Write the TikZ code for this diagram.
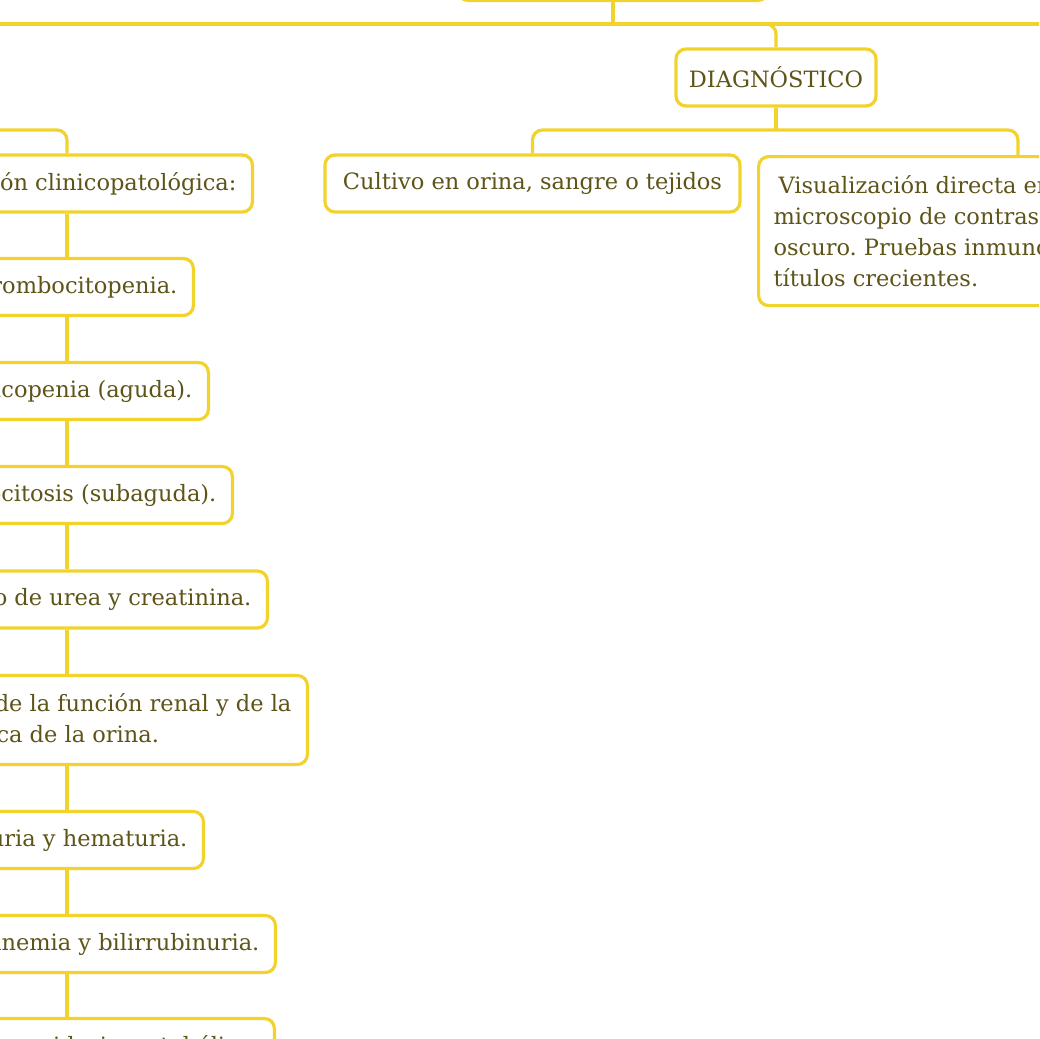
\documentclass[tikz,border=0pt]{standalone}
\usepackage{fontspec}
\setmainfont{DejaVu Serif}
\usetikzlibrary{calc}
\definecolor{yel}{HTML}{F2D32C}
\definecolor{txt}{HTML}{5E5418}
\frenchspacing
\begin{document}
\begin{tikzpicture}[x=1pt,y=-1pt,
  box/.style={draw=yel, line width=3.2pt, rounded corners=10pt, fill=white, text=txt,
    font=\fontsize{22.5}{31}\selectfont\frenchspacing, inner xsep=16pt, inner ysep=0pt, minimum height=57pt},
  conn/.style={draw=yel, line width=3.2pt, rounded corners=10pt}]
\useasboundingbox (0,0) rectangle (1039,1039);
\clip (0,0) rectangle (1039,1039);
% nodes
\node[box, minimum width=310pt, minimum height=60pt, anchor=south] (root) at (613,2) {};
\node[box, minimum width=200pt, inner xsep=12pt] (diag) at (776,77.5) {DIAGNÓSTICO};
\node[box, minimum width=415pt] (cult) at (532.5,183.5) {Cultivo en orina, sangre o tejidos};
\node[box, anchor=north west, minimum height=149pt, align=left, inner xsep=15pt] (vis) at (757,155)
  {\hspace{5pt}Visualización directa en el\\microscopio de contraste de campo\\oscuro. Pruebas inmunológicas con\\títulos crecientes.};
\node[box, anchor=east] (pres) at (254,183.5) {Presentación clinicopatológica:};
\node[box, anchor=east] (tromb) at (195,287) {Trombocitopenia.};
\node[box, anchor=east] (leucop) at (210,391) {Leucopenia (aguda).};
\node[box, anchor=east] (leucoc) at (234,495) {Leucocitosis (subaguda).};
\node[box, anchor=east] (urea) at (269,599.5) {Aumento de urea y creatinina.};
\node[box, anchor=east, align=left, minimum height=89pt] (renal) at (309,720)
  {\hspace*{160pt}\llap{Alteraciones d}e la función renal y de la\\\hspace*{160pt}\llap{composición químic}a de la orina.};
\node[box, anchor=east] (prot) at (205,840) {Proteinuria y hematuria.};
\node[box, anchor=east] (bili) at (277,944) {Hiperbilirrubinemia y bilirrubinuria.};
\node[box, anchor=east] (acid) at (276,1047) {Hiperfosfatemia y acidosis metabólica.};
% helper coordinates
\coordinate (lx) at (67,0);
\coordinate (bx) at (1018,0);
\coordinate (busL) at (-20,24);
\coordinate (busR) at (1060,24);
\coordinate (bus2) at (776,130);
\coordinate (bus3) at (-20,130);
% connectors
\draw[conn] (busL) -- (busR);
\draw[conn] (root.south) -- (root.south |- busL);
\draw[conn] (busL) -| (diag.north);
\draw[conn] (diag.south) -- (diag.south |- bus2);
\draw[conn] (cult.north) |- (bus2 -| bx) -- (vis.north -| bx);
\draw[conn] (bus3) -| (pres.north -| lx);
\draw[conn] (pres.south -| lx) -- (tromb.north -| lx);
\draw[conn] (tromb.south -| lx) -- (leucop.north -| lx);
\draw[conn] (leucop.south -| lx) -- (leucoc.north -| lx);
\draw[conn] (leucoc.south -| lx) -- (urea.north -| lx);
\draw[conn] (urea.south -| lx) -- (renal.north -| lx);
\draw[conn] (renal.south -| lx) -- (prot.north -| lx);
\draw[conn] (prot.south -| lx) -- (bili.north -| lx);
\draw[conn] (bili.south -| lx) -- (acid.north -| lx);
\end{tikzpicture}
\end{document}
